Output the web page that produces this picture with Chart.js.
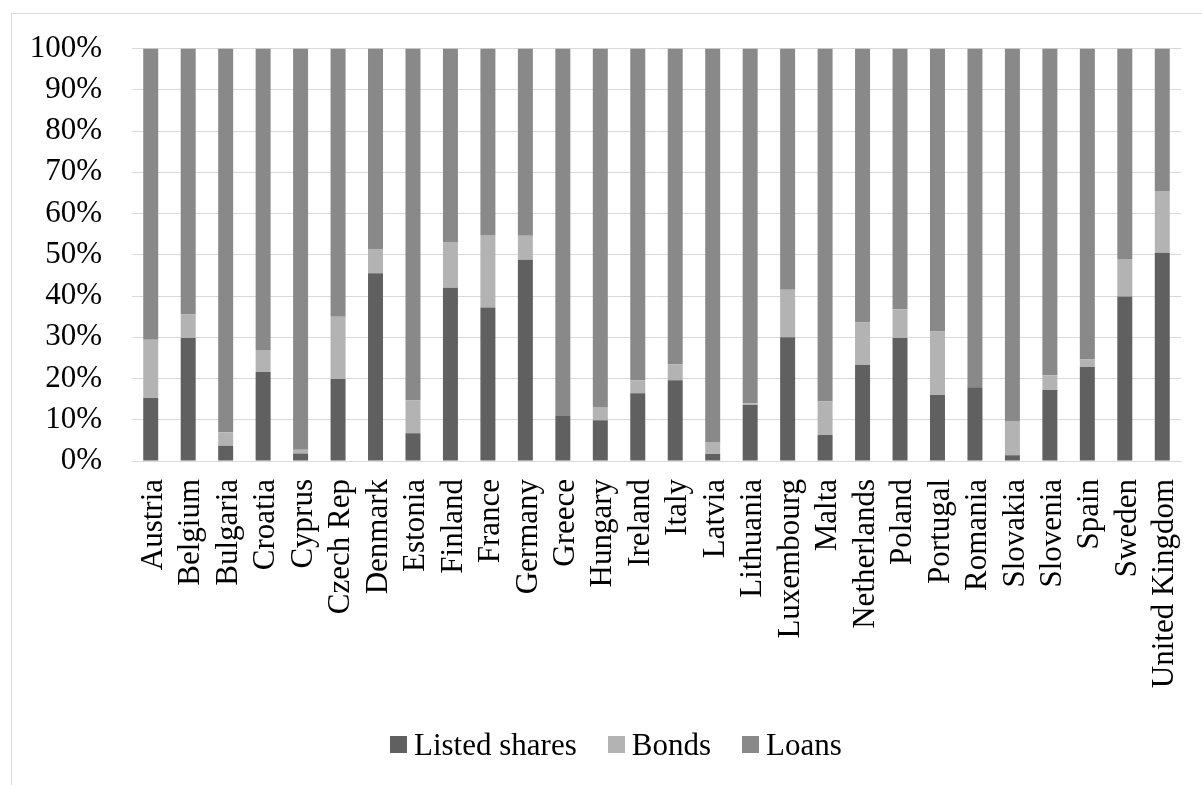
<!DOCTYPE html>
<html>
<head>
<meta charset="utf-8">
<script src="https://cdn.jsdelivr.net/npm/chart.js@4"></script>
<style>
  html, body { margin: 0; padding: 0; background: #fff; overflow: hidden; }
  #frame { position: absolute; left: 11px; top: 13px; width: 1400px; height: 1000px; border: 1px solid #d9d9d9; }
  #wrap { position: absolute; left: 0; top: 0; width: 1202px; height: 785px; }
  #legend { position: absolute; left: 390px; top: 729px; display: flex; align-items: center; gap: 31px;
            font-family: "Liberation Serif", "Times New Roman", serif; font-size: 31px; line-height: 31px; color: #000; }
  #legend .item { display: flex; align-items: center; }
  #legend .box { width: 17px; height: 17px; margin-right: 7px; }
</style>
</head>
<body>
<div id="frame"></div>
<div id="wrap"><canvas id="c" width="1202" height="785"></canvas></div>
<div id="legend"></div>
<script>
const categories = ["Austria","Belgium","Bulgaria","Croatia","Cyprus","Czech Rep","Denmark","Estonia","Finland","France","Germany","Greece","Hungary","Ireland","Italy","Latvia","Lithuania","Luxembourg","Malta","Netherlands","Poland","Portugal","Romania","Slovakia","Slovenia","Spain","Sweden","United Kingdom"];
const listedShares = [15.3, 29.8, 3.7, 21.6, 1.8, 19.9, 45.5, 6.7, 42.0, 37.2, 48.8, 10.9, 9.9, 16.4, 19.6, 1.7, 13.6, 30.0, 6.3, 23.3, 29.8, 16.0, 17.9, 1.4, 17.2, 22.8, 39.9, 50.5];
const bonds = [14.1, 5.7, 3.3, 5.3, 0.9, 15.1, 5.9, 8.0, 11.1, 17.6, 5.8, 0.0, 3.2, 3.1, 3.8, 2.9, 0.4, 11.5, 8.1, 10.3, 7.0, 15.4, 0.0, 8.3, 3.6, 1.8, 9.1, 15.0];
const loans = [70.6, 64.5, 93.0, 73.1, 97.3, 65.0, 48.6, 85.3, 46.9, 45.2, 45.4, 89.1, 86.9, 80.5, 76.6, 95.4, 86.0, 58.5, 85.6, 66.4, 63.2, 68.6, 82.1, 90.3, 79.2, 75.4, 51.0, 34.5];
const yTicks = [0, 10, 20, 30, 40, 50, 60, 70, 80, 90, 100];
const seriesNames = ["Listed shares", "Bonds", "Loans"];
const seriesColors = ["#606060", "#b3b3b3", "#898989"];

const FONT = '"Liberation Serif", "Times New Roman", serif';
const seriesData = [listedShares, bonds, loans];

new Chart(document.getElementById('c'), {
  type: 'bar',
  data: {
    labels: categories,
    datasets: seriesNames.map((n, i) => ({
      label: n,
      data: seriesData[i],
      backgroundColor: seriesColors[i],
      borderWidth: 0,
      barPercentage: 0.5,
      categoryPercentage: 0.8
    }))
  },
  options: {
    responsive: false,
    animation: false,
    layout: { padding: { left: 28, right: 21, top: 47, bottom: 0 } },
    plugins: { legend: { display: false }, tooltip: { enabled: false } },
    scales: {
      x: {
        stacked: true,
        grid: { display: false, drawTicks: false },
        border: { display: true, color: '#d9d9d9', width: 1 },
        ticks: { minRotation: 90, maxRotation: 90, autoSkip: false, padding: 18, labelOffset: 3, color: '#000',
                 font: { family: FONT, size: 31 } },
        afterFit: (s) => { s.height = 324; s.paddingLeft = 0; s.paddingRight = 0; }
      },
      y: {
        stacked: true,
        min: 0, max: 100,
        afterBuildTicks: (s) => { s.ticks = yTicks.map(v => ({ value: v })); },
        grid: { color: '#d9d9d9', lineWidth: 1, drawTicks: false },
        border: { display: false },
        ticks: { padding: 30, color: '#000', font: { family: FONT, size: 31 },
                 callback: (v) => v + '%' },
        afterFit: (s) => { s.width = 104; }
      }
    }
  }
});

const lg = document.getElementById('legend');
seriesNames.forEach((n, i) => {
  const it = document.createElement('div'); it.className = 'item';
  const b = document.createElement('span'); b.className = 'box'; b.style.background = seriesColors[i];
  const t = document.createElement('span'); t.textContent = n;
  it.appendChild(b); it.appendChild(t); lg.appendChild(it);
});
</script>
</body>
</html>
